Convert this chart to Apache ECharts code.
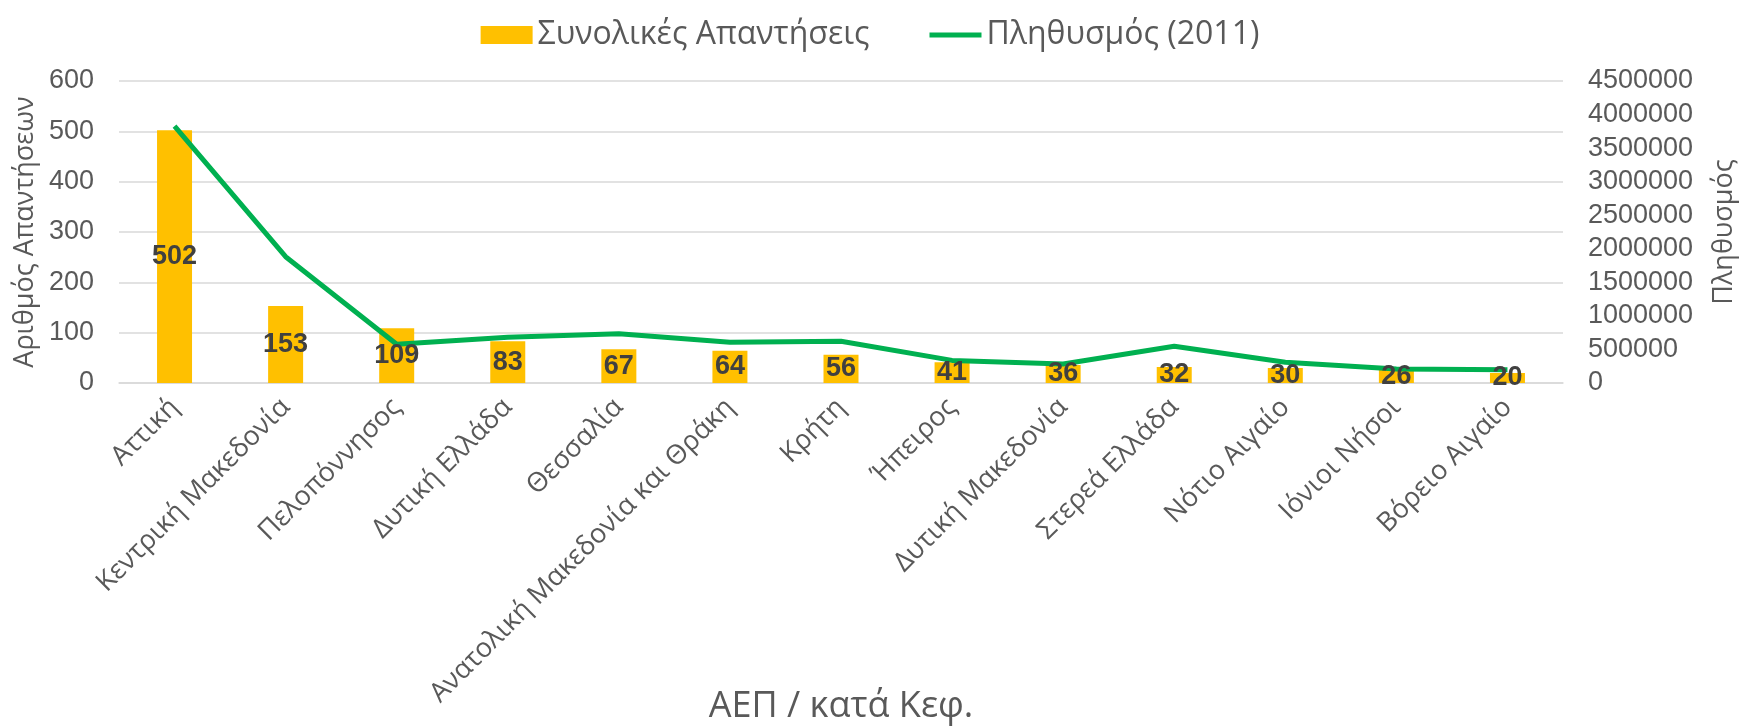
<!DOCTYPE html>
<html>
<head>
<meta charset="utf-8">
<script src="https://cdn.jsdelivr.net/npm/echarts@6/dist/echarts.min.js"></script>
<style>
  html, body { margin: 0; padding: 0; background: #fff; }
  #chart { width: 1740px; height: 727px; }
</style>
</head>
<body>
<div id="chart"></div>
<script>
const regions = [
  'Αττική', 'Κεντρική Μακεδονία', 'Πελοπόννησος', 'Δυτική Ελλάδα', 'Θεσσαλία',
  'Ανατολική Μακεδονία και Θράκη', 'Κρήτη', 'Ήπειρος', 'Δυτική Μακεδονία',
  'Στερεά Ελλάδα', 'Νότιο Αιγαίο', 'Ιόνιοι Νήσοι', 'Βόρειο Αιγαίο'
];
const responses = [502, 153, 109, 83, 67, 64, 56, 41, 36, 32, 30, 26, 20];
const population = [3828000, 1882000, 578000, 680000, 733000, 608000, 623000, 337000, 284000, 547000, 309000, 208000, 199000];

const chart = echarts.init(document.getElementById('chart'));
const textFont = '"Open Sans", "DejaVu Sans", sans-serif';
const numFont = '"Liberation Sans", Arial, sans-serif';
const grey = '#595959';

chart.setOption({
  animation: false,
  legend: {
    left: 'center',
    top: 14,
    itemWidth: 52,
    itemHeight: 18,
    itemGap: 60,
    textStyle: { fontFamily: textFont, fontSize: 32, color: grey },
    data: [
      { name: 'Συνολικές Απαντήσεις', icon: 'rect' },
      { name: 'Πληθυσμός (2011)', icon: 'path://M0,0L52,0L52,5L0,5Z' }
    ]
  },
  grid: { left: 119, right: 177, top: 81, bottom: 344, outerBoundsMode: 'none' },
  xAxis: {
    type: 'category',
    data: regions,
    name: 'ΑΕΠ / κατά Κεφ.',
    nameLocation: 'middle',
    nameGap: 306,
    nameMoveOverlap: false,
    nameTextStyle: { fontFamily: textFont, fontSize: 36, color: grey },
    axisLine: { lineStyle: { color: '#d9d9d9', width: 1.5 } },
    axisTick: { show: false },
    axisLabel: {
      interval: 0,
      rotate: 45,
      margin: 20,
      fontFamily: textFont,
      fontSize: 27,
      color: grey
    }
  },
  yAxis: [
    {
      type: 'value',
      min: 0,
      max: 600,
      interval: 100,
      name: 'Αριθμός Απαντήσεων',
      nameLocation: 'middle',
      nameGap: 80,
      nameMoveOverlap: false,
      nameTextStyle: { fontFamily: textFont, fontSize: 27, color: grey },
      axisLabel: { margin: 25, fontFamily: numFont, fontSize: 27, color: grey },
      splitLine: { lineStyle: { color: '#d9d9d9', width: 1.5 } }
    },
    {
      type: 'value',
      min: 0,
      max: 4500000,
      interval: 500000,
      name: 'Πληθυσμός',
      nameLocation: 'middle',
      nameGap: 148,
      nameRotate: 90,
      nameMoveOverlap: false,
      nameTextStyle: { fontFamily: textFont, fontSize: 27, color: grey },
      axisLabel: {
        margin: 25,
        align: 'left',
        fontFamily: numFont,
        fontSize: 27,
        color: grey,
        formatter: v => String(v)
      },
      splitLine: { show: false }
    }
  ],
  series: [
    {
      name: 'Συνολικές Απαντήσεις',
      type: 'bar',
      data: responses,
      barWidth: 35,
      z: 1,
      itemStyle: { color: '#FFC000' }
    },
    {
      name: 'Πληθυσμός (2011)',
      type: 'line',
      yAxisIndex: 1,
      data: population,
      symbol: 'none',
      z: 2,
      lineStyle: { color: '#00B050', width: 5 },
      itemStyle: { color: '#00B050' }
    },
    {
      // labels drawn above the line
      name: 'labels',
      type: 'bar',
      data: responses,
      barWidth: 35,
      barGap: '-100%',
      z: 3,
      silent: true,
      itemStyle: { color: 'rgba(0,0,0,0)' },
      label: {
        show: true,
        position: 'inside',
        fontFamily: numFont,
        fontWeight: 'bold',
        fontSize: 27,
        color: '#404040'
      }
    }
  ]
});
</script>
</body>
</html>
